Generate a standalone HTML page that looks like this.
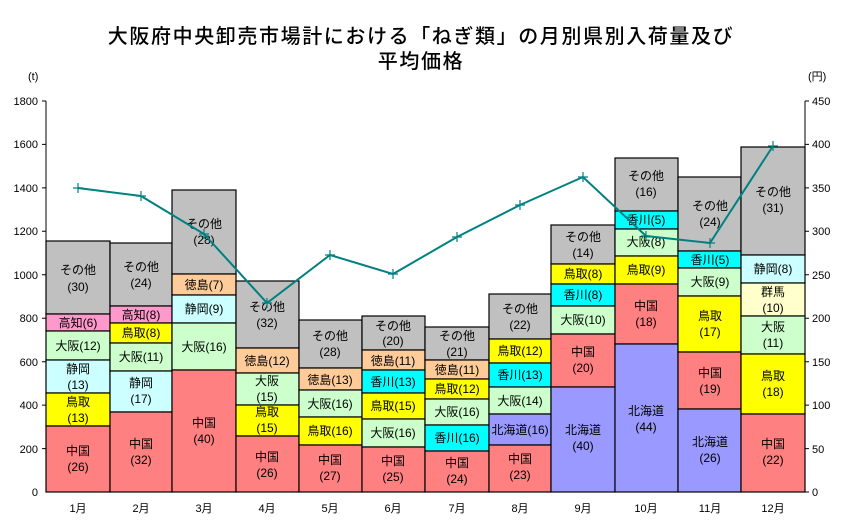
<!DOCTYPE html>
<html><head><meta charset="utf-8"><style>
body{margin:0;background:#fff;}
svg{display:block;font-family:"Liberation Sans","Noto Sans CJK JP",sans-serif;}
.s text{font-size:12px;text-anchor:middle;fill:#000;}
.ax{font-size:11px;fill:#000;}
rect{stroke:#000;stroke-width:1.2;}
</style></head><body>
<svg width="843" height="525" viewBox="0 0 843 525">
<text x="421" y="43" font-size="20" text-anchor="middle" letter-spacing="1.6" font-weight="500">大阪府中央卸売市場計における「ねぎ類」の月別県別入荷量及び</text>
<text x="421" y="68" font-size="20" text-anchor="middle" letter-spacing="1.6" font-weight="500">平均価格</text>
<text x="28" y="80" class="ax">(t)</text>
<text x="808" y="80" class="ax">(円)</text>
<g class="ax" text-anchor="end">
<text x="38" y="105">1800</text><text x="38" y="148">1600</text><text x="38" y="192">1400</text><text x="38" y="235">1200</text><text x="38" y="279">1000</text><text x="38" y="322">800</text><text x="38" y="366">600</text><text x="38" y="409">400</text><text x="38" y="453">200</text><text x="38" y="496">0</text>
</g>
<g class="ax" text-anchor="start">
<text x="812" y="105">450</text><text x="812" y="148">400</text><text x="812" y="192">350</text><text x="812" y="235">300</text><text x="812" y="279">250</text><text x="812" y="322">200</text><text x="812" y="366">150</text><text x="812" y="409">100</text><text x="812" y="453">50</text><text x="812" y="496">0</text>
</g>
<g stroke="#000" stroke-width="1">
<line x1="46" y1="101" x2="46" y2="492"/><line x1="805" y1="101" x2="805" y2="492"/><line x1="46" y1="492" x2="805" y2="492"/>
<path d="M42 101h4M42 144.4h4M42 187.9h4M42 231.3h4M42 274.8h4M42 318.2h4M42 361.7h4M42 405.1h4M42 448.6h4M805 101h4M805 144.4h4M805 187.9h4M805 231.3h4M805 274.8h4M805 318.2h4M805 361.7h4M805 405.1h4M805 448.6h4M805 492h4"/>
</g>
<g class="s">
<rect x="46" y="241" width="64" height="73" fill="#C0C0C0"/><text x="78" y="274">その他</text><text x="78" y="291">(30)</text>
<rect x="46" y="314" width="64" height="17" fill="#FF99CC"/><text x="78" y="327">高知(6)</text>
<rect x="46" y="331" width="64" height="29" fill="#CCFFCC"/><text x="78" y="350">大阪(12)</text>
<rect x="46" y="360" width="64" height="33" fill="#CCFFFF"/><text x="78" y="373">静岡</text><text x="78" y="389">(13)</text>
<rect x="46" y="393" width="64" height="33" fill="#FFFF00"/><text x="78" y="406">鳥取</text><text x="78" y="422">(13)</text>
<rect x="46" y="426" width="64" height="66" fill="#FF8080"/><text x="78" y="455">中国</text><text x="78" y="471">(26)</text>
<rect x="110" y="243" width="62" height="63" fill="#C0C0C0"/><text x="141" y="271">その他</text><text x="141" y="287">(24)</text>
<rect x="110" y="306" width="62" height="17" fill="#FF99CC"/><text x="141" y="319">高知(8)</text>
<rect x="110" y="323" width="62" height="20" fill="#FFFF00"/><text x="141" y="337">鳥取(8)</text>
<rect x="110" y="343" width="62" height="28" fill="#CCFFCC"/><text x="141" y="361">大阪(11)</text>
<rect x="110" y="371" width="62" height="41" fill="#CCFFFF"/><text x="141" y="387">静岡</text><text x="141" y="403">(17)</text>
<rect x="110" y="412" width="62" height="80" fill="#FF8080"/><text x="141" y="448">中国</text><text x="141" y="464">(32)</text>
<rect x="172" y="190" width="64" height="84" fill="#C0C0C0"/><text x="204" y="228">その他</text><text x="204" y="244">(28)</text>
<rect x="172" y="274" width="64" height="21" fill="#FFCC99"/><text x="204" y="289">徳島(7)</text>
<rect x="172" y="295" width="64" height="28" fill="#CCFFFF"/><text x="204" y="313">静岡(9)</text>
<rect x="172" y="323" width="64" height="47" fill="#CCFFCC"/><text x="204" y="351">大阪(16)</text>
<rect x="172" y="370" width="64" height="122" fill="#FF8080"/><text x="204" y="427">中国</text><text x="204" y="443">(40)</text>
<rect x="236" y="281" width="63" height="67" fill="#C0C0C0"/><text x="267" y="311">その他</text><text x="267" y="327">(32)</text>
<rect x="236" y="348" width="63" height="25" fill="#FFCC99"/><text x="267" y="365">徳島(12)</text>
<rect x="236" y="373" width="63" height="32" fill="#CCFFCC"/><text x="267" y="385">大阪</text><text x="267" y="401">(15)</text>
<rect x="236" y="405" width="63" height="31" fill="#FFFF00"/><text x="267" y="416">鳥取</text><text x="267" y="432">(15)</text>
<rect x="236" y="436" width="63" height="56" fill="#FF8080"/><text x="267" y="461">中国</text><text x="267" y="477">(26)</text>
<rect x="299" y="320" width="63" height="48" fill="#C0C0C0"/><text x="330" y="340">その他</text><text x="330" y="356">(28)</text>
<rect x="299" y="368" width="63" height="22" fill="#FFCC99"/><text x="330" y="384">徳島(13)</text>
<rect x="299" y="390" width="63" height="27" fill="#CCFFCC"/><text x="330" y="408">大阪(16)</text>
<rect x="299" y="417" width="63" height="28" fill="#FFFF00"/><text x="330" y="435">鳥取(16)</text>
<rect x="299" y="445" width="63" height="47" fill="#FF8080"/><text x="330" y="464">中国</text><text x="330" y="480">(27)</text>
<rect x="362" y="316" width="63" height="34" fill="#C0C0C0"/><text x="393" y="330">その他</text><text x="393" y="345">(20)</text>
<rect x="362" y="350" width="63" height="20" fill="#FFCC99"/><text x="393" y="365">徳島(11)</text>
<rect x="362" y="370" width="63" height="23" fill="#00FFFF"/><text x="393" y="386">香川(13)</text>
<rect x="362" y="393" width="63" height="26" fill="#FFFF00"/><text x="393" y="410">鳥取(15)</text>
<rect x="362" y="419" width="63" height="28" fill="#CCFFCC"/><text x="393" y="437">大阪(16)</text>
<rect x="362" y="447" width="63" height="45" fill="#FF8080"/><text x="393" y="465">中国</text><text x="393" y="481">(25)</text>
<rect x="425" y="327" width="64" height="33" fill="#C0C0C0"/><text x="457" y="340">その他</text><text x="457" y="356">(21)</text>
<rect x="425" y="360" width="64" height="19" fill="#FFCC99"/><text x="457" y="374">徳島(11)</text>
<rect x="425" y="379" width="64" height="20" fill="#FFFF00"/><text x="457" y="393">鳥取(12)</text>
<rect x="425" y="399" width="64" height="26" fill="#CCFFCC"/><text x="457" y="416">大阪(16)</text>
<rect x="425" y="425" width="64" height="26" fill="#00FFFF"/><text x="457" y="442">香川(16)</text>
<rect x="425" y="451" width="64" height="41" fill="#FF8080"/><text x="457" y="467">中国</text><text x="457" y="483">(24)</text>
<rect x="489" y="294" width="62" height="45" fill="#C0C0C0"/><text x="520" y="313">その他</text><text x="520" y="329">(22)</text>
<rect x="489" y="339" width="62" height="24" fill="#FFFF00"/><text x="520" y="355">鳥取(12)</text>
<rect x="489" y="363" width="62" height="24" fill="#00FFFF"/><text x="520" y="379">香川(13)</text>
<rect x="489" y="387" width="62" height="27" fill="#CCFFCC"/><text x="520" y="405">大阪(14)</text>
<rect x="489" y="414" width="62" height="31" fill="#9999FF"/><text x="520" y="434">北海道(16)</text>
<rect x="489" y="445" width="62" height="47" fill="#FF8080"/><text x="520" y="463">中国</text><text x="520" y="479">(23)</text>
<rect x="551" y="225" width="64" height="39" fill="#C0C0C0"/><text x="583" y="241">その他</text><text x="583" y="257">(14)</text>
<rect x="551" y="264" width="64" height="20" fill="#FFFF00"/><text x="583" y="278">鳥取(8)</text>
<rect x="551" y="284" width="64" height="22" fill="#00FFFF"/><text x="583" y="299">香川(8)</text>
<rect x="551" y="306" width="64" height="28" fill="#CCFFCC"/><text x="583" y="324">大阪(10)</text>
<rect x="551" y="334" width="64" height="53" fill="#FF8080"/><text x="583" y="356">中国</text><text x="583" y="372">(20)</text>
<rect x="551" y="387" width="64" height="105" fill="#9999FF"/><text x="583" y="434">北海道</text><text x="583" y="450">(40)</text>
<rect x="615" y="158" width="63" height="53" fill="#C0C0C0"/><text x="646" y="180">その他</text><text x="646" y="196">(16)</text>
<rect x="615" y="211" width="63" height="18" fill="#00FFFF"/><text x="646" y="224">香川(5)</text>
<rect x="615" y="229" width="63" height="27" fill="#CCFFCC"/><text x="646" y="246">大阪(8)</text>
<rect x="615" y="256" width="63" height="28" fill="#FFFF00"/><text x="646" y="274">鳥取(9)</text>
<rect x="615" y="284" width="63" height="60" fill="#FF8080"/><text x="646" y="310">中国</text><text x="646" y="326">(18)</text>
<rect x="615" y="344" width="63" height="148" fill="#9999FF"/><text x="646" y="415">北海道</text><text x="646" y="431">(44)</text>
<rect x="678" y="177" width="63" height="74" fill="#C0C0C0"/><text x="710" y="210">その他</text><text x="710" y="226">(24)</text>
<rect x="678" y="251" width="63" height="17" fill="#00FFFF"/><text x="710" y="264">香川(5)</text>
<rect x="678" y="268" width="63" height="28" fill="#CCFFCC"/><text x="710" y="286">大阪(9)</text>
<rect x="678" y="296" width="63" height="56" fill="#FFFF00"/><text x="710" y="320">鳥取</text><text x="710" y="336">(17)</text>
<rect x="678" y="352" width="63" height="57" fill="#FF8080"/><text x="710" y="377">中国</text><text x="710" y="393">(19)</text>
<rect x="678" y="409" width="63" height="83" fill="#9999FF"/><text x="710" y="446">北海道</text><text x="710" y="462">(26)</text>
<rect x="741" y="147" width="64" height="108" fill="#C0C0C0"/><text x="773" y="196">その他</text><text x="773" y="212">(31)</text>
<rect x="741" y="255" width="64" height="28" fill="#CCFFFF"/><text x="773" y="273">静岡(8)</text>
<rect x="741" y="283" width="64" height="33" fill="#FFFFCC"/><text x="773" y="296">群馬</text><text x="773" y="312">(10)</text>
<rect x="741" y="316" width="64" height="38" fill="#CCFFCC"/><text x="773" y="331">大阪</text><text x="773" y="347">(11)</text>
<rect x="741" y="354" width="64" height="60" fill="#FFFF00"/><text x="773" y="380">鳥取</text><text x="773" y="396">(18)</text>
<rect x="741" y="414" width="64" height="78" fill="#FF8080"/><text x="773" y="448">中国</text><text x="773" y="464">(22)</text>
</g>
<polyline fill="none" stroke="#008080" stroke-width="2" points="78,188 141,196 204,234 267,303 330,255 393,274 457,237 520,205 583,177 646,236 710,243 773,146"/>
<g stroke="#008080" stroke-width="1.2">
<path d="M73 188h10M78 183v10M136 196h10M141 191v10M199 234h10M204 229v10M262 303h10M267 298v10M325 255h10M330 250v10M388 274h10M393 269v10M452 237h10M457 232v10M515 205h10M520 200v10M578 177h10M583 172v10M641 236h10M646 231v10M705 243h10M710 238v10M768 146h10M773 141v10"/>
</g>
<g class="ax" text-anchor="middle">
<text x="78" y="512">1月</text><text x="141" y="512">2月</text><text x="204" y="512">3月</text><text x="267" y="512">4月</text><text x="330" y="512">5月</text><text x="393" y="512">6月</text><text x="457" y="512">7月</text><text x="520" y="512">8月</text><text x="583" y="512">9月</text><text x="646" y="512">10月</text><text x="710" y="512">11月</text><text x="773" y="512">12月</text>
</g>
</svg>
</body></html>
